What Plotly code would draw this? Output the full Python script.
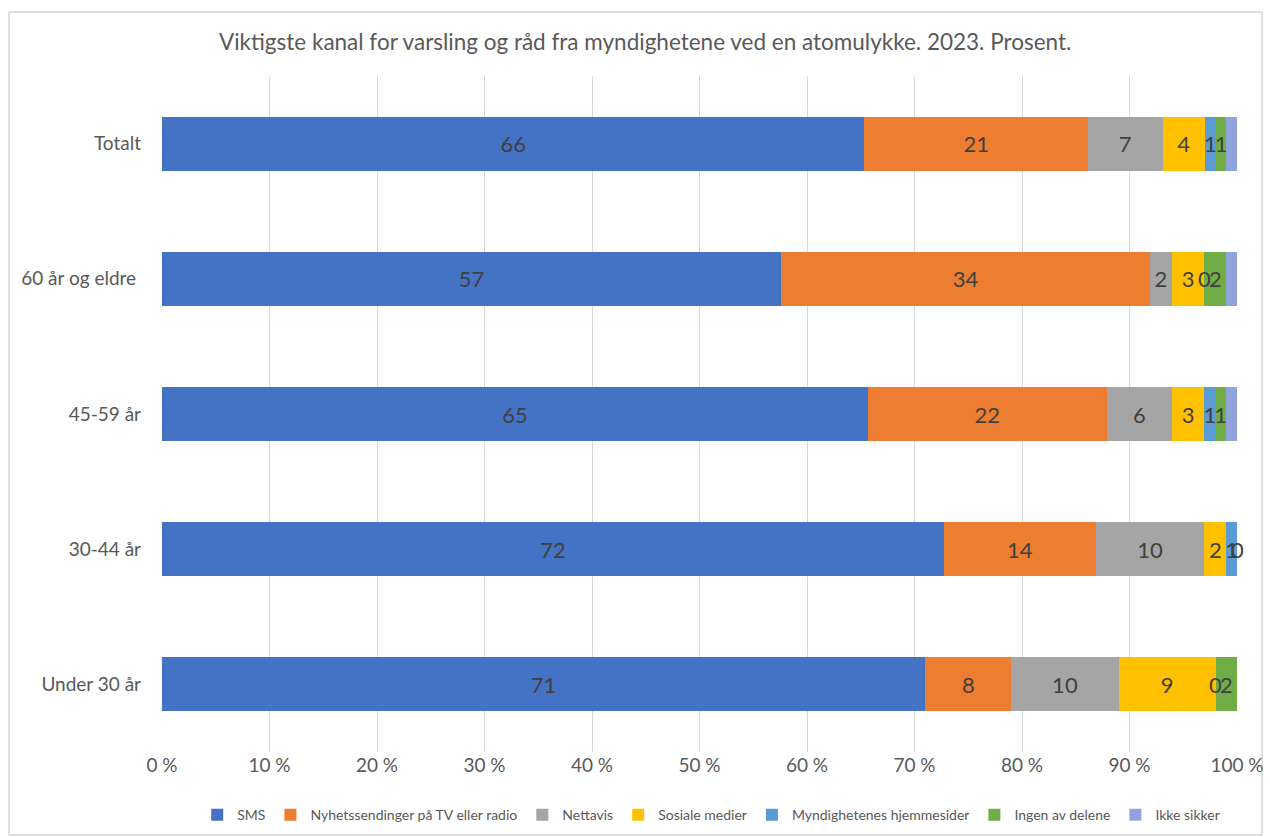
import plotly.graph_objects as go

categories = ["Totalt", "60 år og eldre ", "45-59 år", "30-44 år", "Under 30 år"]
series_names = ["SMS", "Nyhetssendinger på TV eller radio", "Nettavis", "Sosiale medier",
                "Myndighetenes hjemmesider", "Ingen av delene", "Ikke sikker"]
sms = [66, 57, 65, 72, 71]
nyhets = [21, 34, 22, 14, 8]
nettavis = [7, 2, 6, 10, 10]
sosiale = [4, 3, 3, 2, 9]
myndig = [1, 0, 1, 1, 0]
ingen = [1, 2, 1, 0, 2]
ikke_sikker = [1, 1, 1, 0, 0]

values = [sms, nyhets, nettavis, sosiale, myndig, ingen, ikke_sikker]
colors = ["#4472C4", "#ED7D31", "#A5A5A5", "#FFC000", "#5B9BD5", "#70AD47", "#91A3DB"]
show_labels = [True, True, True, True, True, True, False]

FONT = "Lato"
LABEL_FONT = dict(size=22, color="#404040", family=FONT)
fig = go.Figure()
for name, vals, col, lab in zip(series_names, values, colors, show_labels):
    fig.add_trace(go.Bar(
        y=categories, x=vals, name=name, orientation="h",
        marker=dict(color=col, line=dict(width=0)),
        text=[str(v) for v in vals] if lab else None,
        textposition="inside" if lab else "none",
        insidetextanchor="middle",
        constraintext="none",
        textfont=LABEL_FONT,
    ))

# zero-valued segments still carry a "0" label at their (zero-width) position
totals = [sum(v[i] for v in values) for i in range(len(categories))]
for i, cat in enumerate(categories):
    cum = 0
    for vals, lab in zip(values, show_labels):
        if lab and vals[i] == 0:
            fig.add_annotation(x=cum / totals[i] * 100, y=cat, text="0", showarrow=False,
                               font=LABEL_FONT, xanchor="center", yanchor="middle")
        cum += vals[i]

fig.update_layout(
    barmode="stack", barnorm="percent", bargap=0.6,
    width=1270, height=837,
    margin=dict(l=162, r=33, t=76, b=85, autoexpand=False),
    paper_bgcolor="white", plot_bgcolor="white",
    font=dict(family=FONT, color="#595959", size=15),
    title=dict(text="Viktigste kanal for varsling og råd fra myndighetene ved en atomulykke. 2023. Prosent.",
               x=0.508, xref="container", xanchor="center", y=0.95, yanchor="middle",
               font=dict(size=22.5, color="#595959", family=FONT)),
    xaxis=dict(range=[0, 100], dtick=10, ticksuffix=" %", showgrid=True, gridcolor="#D9D9D9",
               gridwidth=1, zeroline=False, showline=False, ticks="", automargin=False,
               tickfont=dict(size=19, color="#595959")),
    yaxis=dict(autorange="reversed", showgrid=False, ticks="", ticklen=0, automargin=False,
               ticklabelstandoff=20,
               tickfont=dict(size=19, color="#595959"), showline=False),
    legend=dict(orientation="h", xref="container", yref="container", x=0.56, xanchor="center",
                y=0.026, yanchor="middle", font=dict(size=14, color="#595959"),
                traceorder="normal"),
    showlegend=True,
)
fig.add_shape(type="rect", xref="paper", yref="paper",
              x0=-0.1423, x1=1.0233, y0=-0.1228, y1=1.0947,
              line=dict(color="#BFBFBF", width=1), layer="below")

fig.write_html("out.html", config={"displayModeBar": False},
               post_script="document.body.style.margin='0';")
